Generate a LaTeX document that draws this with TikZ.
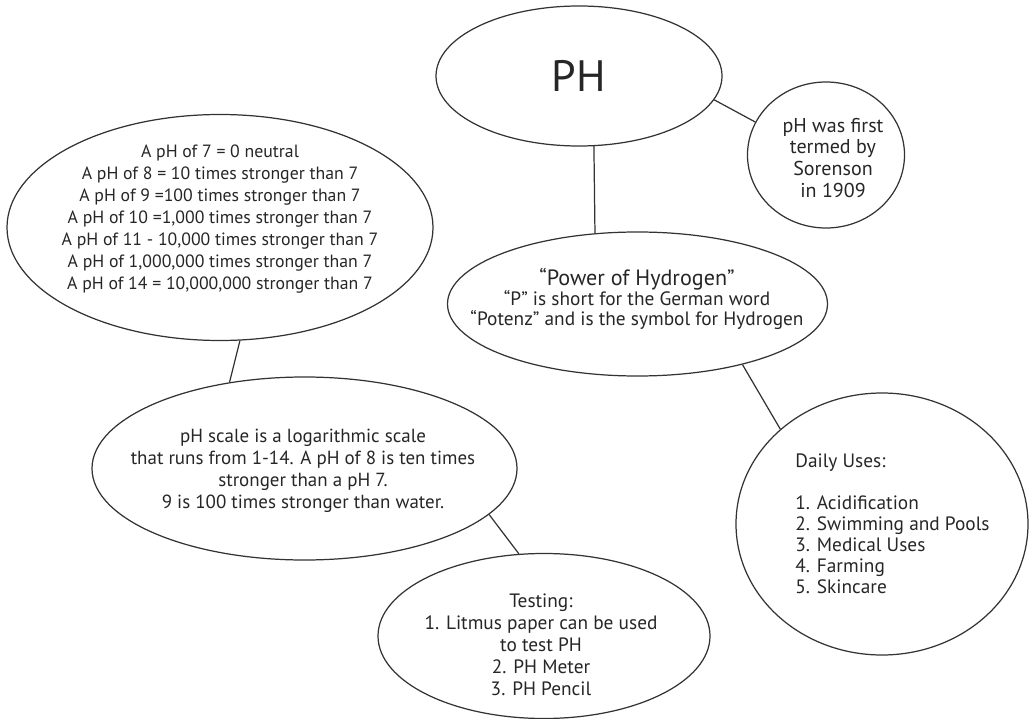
\documentclass[tikz,border=0pt]{standalone}
\usepackage{fontspec}
\setmainfont{PT Sans}
\usetikzlibrary{shapes.geometric}
\tikzset{
  bubble/.style={draw=black!80, line width=0.7pt, ellipse, inner sep=0pt},
  note/.style={align=center, inner sep=0pt, text=black!85, font=\fontsize{11}{12.5}\selectfont},
  link/.style={draw=black!80, line width=0.7pt}
}
\begin{document}
\begin{tikzpicture}
      \useasboundingbox (0,0) rectangle (20.58,-14.38);
      \node[bubble, minimum width=5.72cm, minimum height=2.8cm] (ph) at (11.58,-1.52) {};
      \node[bubble, minimum width=3.14cm, minimum height=2.92cm] (sorenson) at (16.52,-3.10) {};
      \node[bubble, minimum width=7.6cm, minimum height=2.88cm] (power) at (12.75,-6.08) {};
      \node[bubble, minimum width=8.52cm, minimum height=4.52cm] (scale) at (4.40,-4.55) {};
      \node[bubble, minimum width=8.5cm, minimum height=3.66cm] (log) at (6.09,-9.37) {};
      \node[bubble, minimum width=6.64cm, minimum height=3.3cm] (testing) at (10.88,-12.72) {};
      \node[bubble, minimum width=5.84cm, minimum height=5.24cm] (uses) at (17.64,-10.48) {};
      \node[note, font=\fontsize{25}{29}\selectfont] (phtext) at (11.58,-1.52) {PH};
      \node[note, font=\fontsize{11.4}{12.5}\selectfont] (sorensontext) at (16.66,-3.16) {pH was first\\termed by\\Sorenson\\in 1909};
      \node[note, font=\fontsize{11}{11.5}\selectfont] (powertext) at (12.74,-5.98)
        {{\fontsize{12.6}{13}\selectfont “Power of Hydrogen”}\\“P” is short for the German word\\“Potenz” and is the symbol for Hydrogen};
      \node[note, font=\fontsize{10.1}{12.5}\selectfont] (scaletext) at (4.40,-4.38)
        {A pH of 7 = 0 neutral\\A pH of 8 = 10 times stronger than 7\\A pH of 9 =100 times stronger than 7\\A pH of 10 =1,000 times stronger than 7\\A pH of 11 - 10,000 times stronger than 7\\A pH of 1,000,000 times stronger than 7\\A pH of 14 = 10,000,000 stronger than 7};
      \node[note, font=\fontsize{10.8}{12.5}\selectfont] (logtext) at (6.06,-9.42)
        {pH scale is a logarithmic scale\\that runs from 1-14. A pH of 8 is ten times\\stronger than a pH 7.\\9 is 100 times stronger than water.};
      \node[note] (testingtext) at (10.82,-12.90)
        {Testing:\\1. Litmus paper can be used\\to test PH\\2. PH Meter\\3. PH Pencil};
      \node[note, align=left, anchor=west, font=\fontsize{11}{12}\selectfont] (usestext) at (15.9,-10.48)
        {Daily Uses:\\[12pt]1. Acidification\\2. Swimming and Pools\\3. Medical Uses\\4. Farming\\5. Skincare};
      \draw[link] (ph.-78) -- (power.121);
      \draw[link] (ph.-10) -- (sorenson.155);
      \draw[link] (scale.-80) -- (log.131);
      \draw[link] (log.-14) -- (testing.107);
      \draw[link] (power.-30) -- (uses.137);
    \end{tikzpicture}
\end{document}
